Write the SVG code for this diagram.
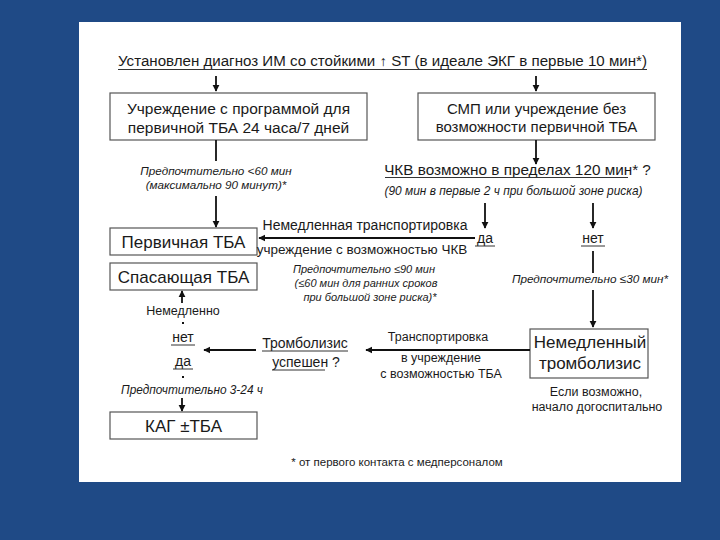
<svg xmlns="http://www.w3.org/2000/svg" width="720" height="540" viewBox="0 0 720 540">
<defs>
<marker id="ah" viewBox="0 0 10 10" refX="9" refY="5" markerWidth="4" markerHeight="4" orient="auto" markerUnits="strokeWidth">
<path d="M0,0 L10,5 L0,10 z" fill="#111"/>
</marker>
<style>
text{font-family:"Liberation Sans",Arial,sans-serif;fill:#1a1a1a}
.t{font-size:14px}
.b{font-size:15px}
.bb{font-size:17px}
.i{font-size:11px;font-style:italic}
.s{font-size:12.5px}
.box{fill:#fff;stroke:#555;stroke-width:1.2}
.c{stroke:#111;stroke-width:1.8;fill:none}
.ca{stroke:#111;stroke-width:1.8;fill:none;marker-end:url(#ah)}
.u{stroke:#333;stroke-width:1}
</style>
</defs>
<rect x="0" y="0" width="720" height="540" fill="#1f4a86"/>
<rect x="79" y="22" width="602" height="460" fill="#fff"/>

<g id="title">
<text class="t" x="382.5" y="66" text-anchor="middle" textLength="529" lengthAdjust="spacingAndGlyphs">Установлен диагноз ИМ со стойкими ↑ ST (в идеале ЭКГ в первые 10 мин*)</text>
<line class="u" x1="118" y1="69.5" x2="647" y2="69.5"/>
</g>

<g id="node-pci-center">
<rect class="box" x="110" y="93" width="257" height="47"/>
<text class="b" x="238.5" y="114" text-anchor="middle" style="font-size:15.5px">Учреждение с программой для</text>
<text class="b" x="238.5" y="133" text-anchor="middle" style="font-size:15.5px">первичной ТБА 24 часа/7 дней</text>
</g>

<g id="node-ems">
<rect class="box" x="418" y="93" width="237" height="47"/>
<text class="b" x="536.5" y="114" text-anchor="middle">СМП или учреждение без</text>
<text class="b" x="536.5" y="132" text-anchor="middle">возможности первичной ТБА</text>
</g>

<g id="node-question-pci">
<text class="t" x="517.5" y="175" text-anchor="middle" style="font-size:15.3px">ЧКВ возможно в пределах 120 мин* ?</text>
<line class="u" x1="385" y1="177.5" x2="628" y2="177.5"/>
<text class="i" x="513.5" y="195" text-anchor="middle" style="font-size:11.9px">(90 мин в первые 2 ч при большой зоне риска)</text>
</g>

<g id="node-yes">
<text class="t" x="485" y="243" text-anchor="middle">да</text>
<line class="u" x1="475" y1="246" x2="495" y2="246"/>
</g>
<g id="node-no">
<text class="t" x="593" y="243" text-anchor="middle">нет</text>
<line class="u" x1="581" y1="246" x2="605" y2="246"/>
</g>

<g id="node-primary">
<rect class="box" x="110" y="228" width="147" height="27"/>
<text class="bb" x="183.5" y="248" text-anchor="middle">Первичная ТБА</text>
</g>

<g id="node-rescue">
<rect class="box" x="110" y="263" width="147" height="27"/>
<text class="bb" x="183.5" y="283" text-anchor="middle">Спасающая ТБА</text>
</g>

<g id="node-lysis">
<rect class="box" x="530" y="329" width="118" height="49"/>
<text class="bb" x="590" y="348" text-anchor="middle">Немедленный</text>
<text class="bb" x="590" y="369" text-anchor="middle">тромболизис</text>
<text class="s" x="596" y="396" text-anchor="middle">Если возможно,</text>
<text class="s" x="597" y="411" text-anchor="middle">начало догоспитально</text>
</g>

<g id="node-success">
<text class="t" x="305" y="348" text-anchor="middle">Тромболизис</text>
<line class="u" x1="262" y1="351" x2="348" y2="351"/>
<text class="t" x="306" y="367" text-anchor="middle">успешен ?</text>
<line class="u" x1="272" y1="370" x2="325" y2="370"/>
</g>

<g id="node-left-no">
<text class="t" x="183" y="342" text-anchor="middle">нет</text>
<line class="u" x1="171" y1="345" x2="195" y2="345"/>
</g>
<g id="node-left-yes">
<text class="t" x="183" y="366" text-anchor="middle">да</text>
<line class="u" x1="173" y1="369" x2="193" y2="369"/>
</g>

<g id="node-cag">
<rect class="box" x="110" y="412" width="147" height="27"/>
<text class="bb" x="183.5" y="432" text-anchor="middle">КАГ ±ТБА</text>
</g>

<g id="footnote">
<text x="397" y="466" text-anchor="middle" font-size="11.5">* от первого контакта с медперсоналом</text>
</g>

<g id="connectors">
<line class="ca" x1="216" y1="76" x2="216" y2="91"/>
<line class="ca" x1="536" y1="76" x2="536" y2="91"/>
<line class="c" x1="216" y1="140" x2="216" y2="161"/>
<text class="i" x="216" y="175" text-anchor="middle" style="font-size:11.7px">Предпочтительно &lt;60 мин</text>
<text class="i" x="216" y="189" text-anchor="middle" style="font-size:11.7px">(максимально 90 минут)*</text>
<line class="ca" x1="216" y1="196" x2="216" y2="227"/>
<line class="ca" x1="536" y1="140" x2="536" y2="164"/>
<line class="ca" x1="485" y1="203" x2="485" y2="228"/>
<line class="ca" x1="593" y1="203" x2="593" y2="228"/>
<line class="ca" x1="475" y1="238" x2="259" y2="238"/>
<text class="t" x="365" y="230" text-anchor="middle">Немедленная транспортировка</text>
<text class="t" x="362" y="254" text-anchor="middle" style="font-size:13.5px">учреждение с возможностью ЧКВ</text>
<text class="i" x="364" y="273" text-anchor="middle">Предпочтительно ≤90 мин</text>
<text class="i" x="366" y="287" text-anchor="middle">(≤60 мин для ранних сроков</text>
<text class="i" x="370" y="301" text-anchor="middle">при большой зоне риска)*</text>
<line class="c" x1="593" y1="251" x2="593" y2="273"/>
<text class="i" x="590" y="283" text-anchor="middle" style="font-size:11.75px">Предпочтительно ≤30 мин*</text>
<line class="ca" x1="593" y1="290" x2="593" y2="327"/>
<line class="ca" x1="530" y1="350" x2="366" y2="350"/>
<text class="s" x="438" y="341" text-anchor="middle">Транспортировка</text>
<text class="s" x="441" y="362" text-anchor="middle">в учреждение</text>
<text class="s" x="441" y="378" text-anchor="middle">с возможностью ТБА</text>
<line class="ca" x1="256" y1="350" x2="204" y2="350"/>
<line class="ca" x1="182" y1="303" x2="182" y2="291"/>
<text class="s" x="183" y="315" text-anchor="middle">Немедленно</text>
<rect x="182" y="322" width="2" height="2" fill="#111"/>
<rect x="182" y="376" width="2" height="2" fill="#111"/>
<text class="i" x="192" y="394" text-anchor="middle" style="font-size:11.85px">Предпочтительно 3-24 ч</text>
<line class="ca" x1="182" y1="398" x2="182" y2="411"/>
</g>
</svg>
